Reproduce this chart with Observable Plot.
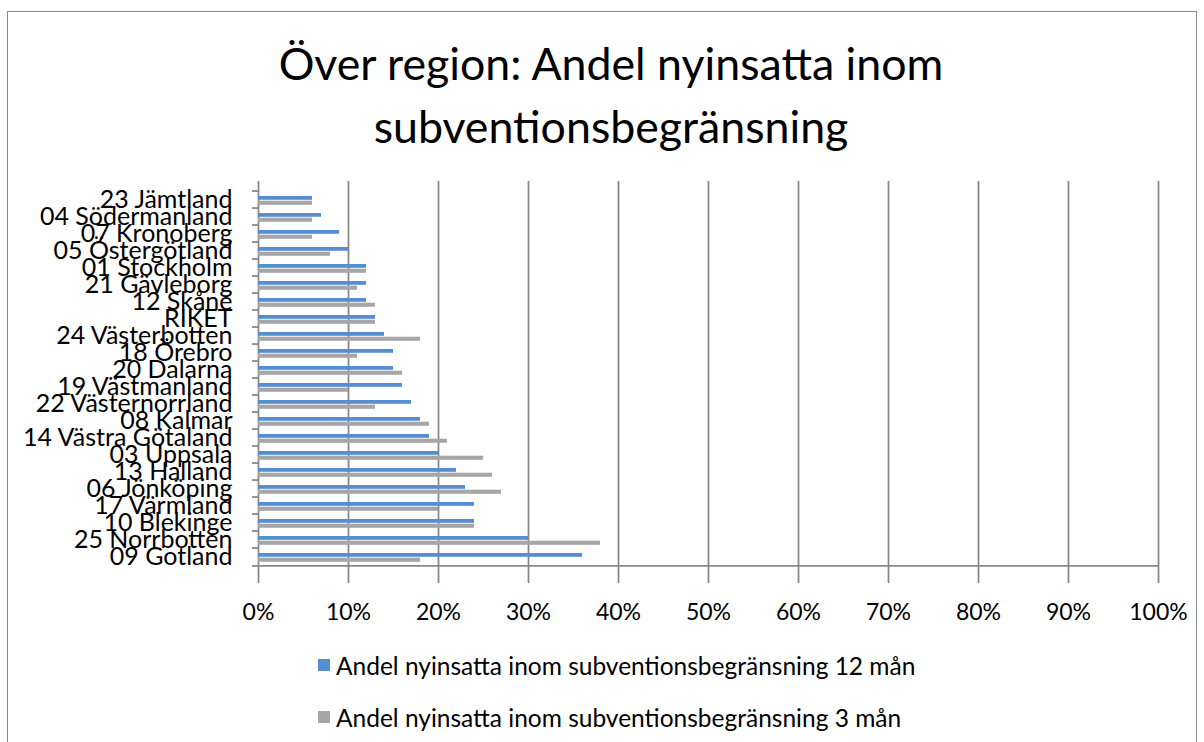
<!DOCTYPE html>
<html><head><meta charset="utf-8">
<script src="https://cdn.jsdelivr.net/npm/d3@7"></script>
<script src="https://cdn.jsdelivr.net/npm/@observablehq/plot@0.6"></script>
<style>
body{margin:0;background:#fff;font-family:Lato,sans-serif;color:#000}
#wrap{position:relative;width:1204px;height:742px;overflow:hidden;background:#fff}
#frame{position:absolute;left:7px;top:11px;width:1190px;height:800px;border:1.5px solid #8a8a8a;box-sizing:border-box}
#title{position:absolute;left:0;width:1222px;top:32px;text-align:center;font-size:44.7px;line-height:63px;white-space:nowrap}
#chart{position:absolute;left:0;top:0}
.leg{position:absolute;left:318px;font-size:24.5px;white-space:nowrap;display:flex;align-items:center;height:30px}
.sw{width:12px;height:12px;margin-right:6px;display:inline-block}
</style></head>
<body>
<div id="wrap">
<div id="frame"></div>
<div id="title">Över region: Andel nyinsatta inom<br>subventionsbegränsning</div>
<div id="chart"></div>
<div class="leg" id="leg1" style="top:650px"></div>
<div class="leg" id="leg2" style="top:702px"></div>
</div>
<script>
const regions = ["23 Jämtland","04 Södermanland","07 Kronoberg","05 Östergötland","01 Stockholm","21 Gävleborg","12 Skåne","RIKET","24 Västerbotten","18 Örebro","20 Dalarna","19 Västmanland","22 Västernorrland","08 Kalmar","14 Västra Götaland","03 Uppsala","13 Halland","06 Jönköping","17 Värmland","10 Blekinge","25 Norrbotten","09 Gotland"];
const andel12 = [6,7,9,10,12,12,12,13,14,15,15,16,17,18,19,20,22,23,24,24,30,36];
const andel3  = [6,6,6,8,12,11,13,13,18,11,16,10,13,19,21,25,26,27,20,24,38,18];
const xTicks = [0,10,20,30,40,50,60,70,80,90,100];
const seriesNames = ["Andel nyinsatta inom subventionsbegränsning 12 mån","Andel nyinsatta inom subventionsbegränsning 3 mån"];
const seriesColors = ["#558ED5","#A6A6A6"];

const rows = regions.map((r,i)=>({region:r, v12:andel12[i], v3:andel3[i]}));
const H = 640, mT = 181, mB = 65;
const step = (H - mT - mB) / regions.length;
const gridColor = "#878787";

const chart = Plot.plot({
  width:1204, height:H,
  marginLeft:258, marginRight:46, marginTop:mT, marginBottom:mB,
  style:{fontFamily:"Lato, sans-serif", fontSize:"19px", color:"#000", background:"transparent", overflow:"visible"},
  x:{domain:[0,100]},
  y:{domain:regions, padding:0},
  marks:[
    Plot.ruleX(xTicks,{x:d=>d, stroke:gridColor, strokeWidth:1.75, insetBottom:-8}),
    Plot.barX(rows,{x:"v12", y:"region", fill:seriesColors[0], insetTop:5, insetBottom:8.2}),
    Plot.barX(rows,{x:"v3", y:"region", fill:seriesColors[1], insetTop:9.7, insetBottom:3.2}),
    Plot.ruleY([regions[regions.length-1]],{y:d=>d, dy:step/2, stroke:gridColor, strokeWidth:1.75}),
    Plot.axisY({tickSize:6, dy:-step/2, tickFormat:()=>"", stroke:gridColor, strokeWidth:1.75, label:null}),
    Plot.axisY({ticks:[regions[regions.length-1]], tickSize:6, dy:step/2, tickFormat:()=>"", stroke:gridColor, strokeWidth:1.75, label:null}),
    Plot.axisY({tickSize:0, tickPadding:26, label:null, fontSize:25}),
    Plot.axisX({ticks:xTicks, tickFormat:d=>d+"%", tickSize:0, tickPadding:28, label:null, fontSize:23})
  ]
});
document.getElementById("chart").appendChild(chart);

[["leg1",0],["leg2",1]].forEach(([id,i])=>{
  const el=document.getElementById(id);
  el.innerHTML = `<span class="sw" style="background:${seriesColors[i]}"></span><span>${seriesNames[i]}</span>`;
});
</script>
</body></html>
